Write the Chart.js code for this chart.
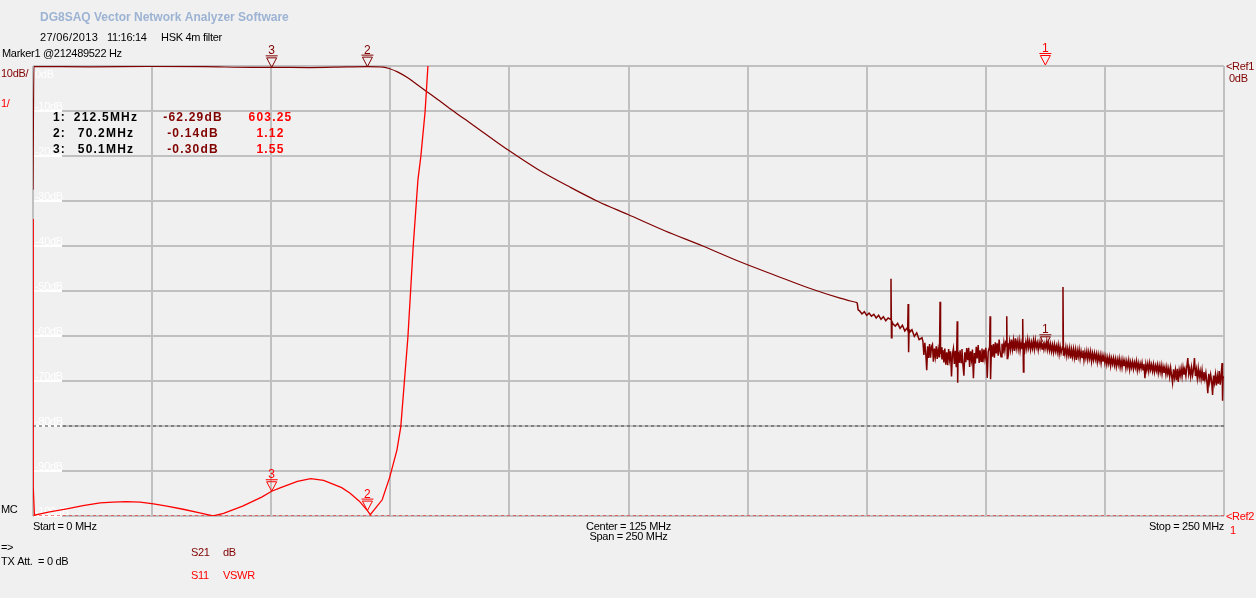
<!DOCTYPE html>
<html>
<head>
<meta charset="utf-8">
<title>DG8SAQ VNWA - HSK 4m filter</title>
<script src="https://cdn.jsdelivr.net/npm/chart.js@4.4.1/dist/chart.umd.min.js"></script>
<style>
  html, body { margin: 0; padding: 0; background: #f0f0f0; }
  #wrap { position: relative; width: 1256px; height: 598px; }
</style>
</head>
<body>
<div id="wrap"><canvas id="vnwa" width="1256" height="598"></canvas></div>
<script>
// S21 (transmission) pass band and skirt, [MHz, dB]
const s21Passband = [
  [0, -27.5], [0.2, -0.1], [12, -0.2], [24, -0.1], [36, -0.15], [46, -0.3], [50.1, -0.3],
  [58, -0.35], [66, -0.2], [70.2, -0.14], [73.5, -0.25], [74.9, -0.6], [76.5, -1.3],
  [78.5, -2.5], [80.2, -3.8], [81.9, -5.1], [83.6, -6.4], [85.4, -7.8], [87.2, -9.2],
  [89.0, -10.6], [91.4, -12.4], [93.8, -14.2], [96.8, -16.5], [99.9, -18.8], [106.0, -23.0],
  [112.7, -26.9], [118.6, -30.1], [124.9, -33.0], [132.6, -36.6], [140.6, -40.0],
  [148.4, -43.5], [156.0, -46.6], [163.0, -49.4], [169.4, -51.6], [173.0, -52.6]
];

// S21 noisy stop band, [MHz, dB]
const s21Stopband = [
  [173.0, -52.6], [173.2, -54.2], [173.5, -54.4], [174.0, -55.1], [174.5, -54.6], [175.0, -55.4],
  [175.5, -54.9], [176.0, -55.6], [176.5, -55.2], [177.0, -56.0], [177.5, -55.4], [178.0, -56.3],
  [178.5, -55.7], [179.0, -56.6], [179.5, -56.0], [180.0, -56.3], [180.1, -47.3], [180.2, -60.4],
  [180.3, -56.8], [180.5, -57.3], [181.0, -57.8], [181.5, -57.2], [182.0, -58.3], [182.5, -57.6],
  [183.0, -58.9], [183.5, -58.2], [183.6, -58.6], [183.7, -52.9], [183.8, -63.6], [183.9, -58.5],
  [184.0, -59.2], [184.5, -58.6], [185.0, -60.1], [185.5, -59.3], [186.0, -60.8],
  [186.6, -60.4], [186.8, -61.2], [187.0, -64.2], [187.2, -61.5], [187.4, -63.9], [187.6, -67.6],
  [187.8, -62.3], [188.0, -64.9], [188.2, -61.8], [188.4, -64.8], [188.6, -62.4], [188.8, -61.9],
  [189.0, -65.7], [189.2, -62.8], [189.4, -64.6], [189.6, -62.3], [189.8, -65.1], [190.0, -63.0],
  [190.2, -64.6], [190.3, -62.0], [190.4, -52.4], [190.5, -64.0], [190.6, -62.5], [190.8, -65.2],
  [191.0, -63.1], [191.2, -65.9], [191.4, -62.8], [191.6, -66.4], [191.8, -63.6], [192.0, -66.5],
  [192.2, -62.9], [192.4, -65.2], [192.6, -63.4], [192.8, -69.0], [193.0, -64.0], [193.2, -62.8],
  [193.4, -66.2], [193.6, -63.3], [193.8, -66.8], [193.9, -63.0], [194.0, -56.7], [194.1, -70.4],
  [194.2, -63.5], [194.4, -66.0], [194.6, -63.2], [194.8, -65.9], [195.0, -62.9], [195.2, -66.4],
  [195.4, -68.8], [195.6, -63.6], [195.8, -65.8], [196.0, -62.7], [196.2, -65.4], [196.4, -62.6],
  [196.6, -66.9], [196.8, -63.4], [197.0, -65.3], [197.2, -63.0], [197.4, -69.4], [197.6, -63.8],
  [197.8, -66.1], [198.0, -62.4], [198.2, -65.0], [198.4, -62.0], [198.6, -66.0], [198.8, -63.2],
  [199.0, -65.6], [199.2, -62.8], [199.4, -65.8], [199.6, -63.0], [199.8, -64.9], [200.0, -62.6],
  [200.2, -66.0], [200.3, -69.3], [200.5, -63.5], [200.8, -62.4], [200.9, -55.6], [201.0, -69.6],
  [201.2, -62.0], [201.4, -64.6], [201.6, -61.8], [201.8, -64.8], [202.0, -61.4], [202.2, -63.9],
  [202.4, -61.6], [202.6, -64.4], [202.8, -60.8], [203.0, -63.5], [203.2, -64.6], [203.4, -61.7],
  [203.6, -63.9], [203.8, -61.5], [204.0, -63.2], [204.2, -61.0], [204.3, -62.2], [204.4, -55.6],
  [204.5, -65.0], [204.6, -61.6], [204.8, -63.4], [205.0, -61.2], [205.2, -63.0], [205.4, -60.8],
  [205.6, -62.9], [205.8, -61.0], [206.0, -63.3], [206.2, -60.5], [206.4, -62.7], [206.6, -61.2],
  [206.8, -62.9], [207.0, -61.0], [207.2, -63.2], [207.4, -61.4], [207.6, -62.8], [207.7, -61.0],
  [207.8, -56.2], [207.9, -68.0], [208.0, -61.5], [208.2, -63.0], [208.4, -61.3], [208.6, -62.8],
  [208.8, -60.8], [209.0, -62.6], [209.2, -61.2], [209.4, -63.0], [209.6, -61.4], [209.8, -62.7],
  [210.0, -61.0], [210.2, -62.9], [210.4, -60.9], [210.6, -62.5], [210.8, -61.5], [211.0, -63.1],
  [211.2, -61.4], [211.4, -62.6], [211.6, -61.2], [211.8, -62.9], [212.0, -61.6], [212.2, -63.0],
  [212.4, -61.7], [212.6, -62.8], [212.8, -61.2], [213.0, -63.0], [213.2, -61.6], [213.4, -63.2],
  [213.6, -61.8], [213.8, -63.4], [214.0, -62.0], [214.2, -63.6], [214.4, -61.9], [214.6, -63.4],
  [214.8, -62.2], [215.0, -63.6], [215.2, -62.0], [215.4, -64.0], [215.6, -62.3], [215.8, -63.8],
  [216.1, -62.4], [216.2, -49.1], [216.3, -64.2], [216.4, -62.6], [216.6, -64.0], [216.8, -62.5],
  [217.0, -64.4], [217.2, -62.8], [217.4, -64.2], [217.6, -62.7], [217.8, -65.0], [218.0, -63.0],
  [218.2, -64.6], [218.4, -62.9], [218.6, -64.8], [218.8, -63.1], [219.0, -65.3], [219.2, -63.2],
  [219.4, -64.6], [219.6, -63.0], [219.8, -65.0], [220.0, -63.4], [220.2, -64.8], [220.4, -63.2],
  [220.6, -65.4], [220.8, -63.6], [221.0, -64.9], [221.2, -63.4], [221.4, -65.2], [221.6, -63.6],
  [221.8, -65.0], [222.0, -63.5], [222.2, -65.6], [222.4, -63.9], [222.6, -65.3], [222.8, -63.8],
  [223.0, -65.2], [223.2, -64.0], [223.4, -65.8], [223.6, -64.1], [223.8, -65.5], [224.0, -64.2],
  [224.2, -66.0], [224.4, -64.3], [224.6, -65.7], [224.8, -64.4], [225.0, -66.0], [225.2, -64.6],
  [225.4, -66.3], [225.6, -64.8], [225.8, -66.1], [226.0, -64.7], [226.2, -66.6], [226.4, -65.0],
  [226.6, -66.2], [226.8, -64.9], [227.0, -66.5], [227.2, -65.1], [227.4, -66.8], [227.6, -65.2],
  [227.8, -66.4], [228.0, -65.0], [228.2, -66.9], [228.4, -65.4], [228.6, -67.0], [228.8, -65.3],
  [229.0, -66.7], [229.2, -65.5], [229.4, -67.2], [229.6, -65.6], [229.8, -66.9], [230.0, -65.4],
  [230.2, -67.4], [230.4, -65.8], [230.6, -67.0], [230.8, -65.7], [231.0, -67.3], [231.2, -65.9],
  [231.4, -67.0], [231.6, -65.6], [231.8, -67.6], [232.0, -66.0], [232.2, -67.4], [232.4, -66.1],
  [232.6, -67.2], [232.8, -65.9], [233.0, -67.5], [233.2, -66.2], [233.4, -69.4], [233.6, -66.3],
  [233.8, -67.6], [234.0, -66.2], [234.2, -67.8], [234.4, -66.0], [234.6, -67.5], [234.8, -66.4],
  [235.0, -67.8], [235.2, -66.3], [235.4, -68.0], [235.6, -66.6], [235.8, -67.7], [236.0, -66.4],
  [236.2, -68.2], [236.4, -66.6], [236.6, -68.0], [236.8, -66.5], [237.0, -68.4], [237.2, -66.8],
  [237.4, -68.2], [237.6, -67.0], [237.8, -68.6], [238.0, -66.9], [238.2, -68.4], [238.4, -67.2],
  [238.6, -69.0], [238.8, -67.1], [239.0, -68.8], [239.2, -70.4], [239.4, -67.4], [239.6, -69.2],
  [239.8, -67.6], [240.0, -69.8], [240.2, -67.3], [240.4, -70.2], [240.6, -67.6], [240.8, -68.8],
  [241.0, -67.2], [241.2, -69.0], [241.4, -67.0], [241.6, -68.6], [241.8, -67.4], [242.0, -68.9],
  [242.2, -66.8], [242.4, -64.9], [242.6, -68.4], [242.8, -67.2], [243.0, -69.0], [243.2, -67.0],
  [243.4, -68.7], [243.6, -67.4], [243.8, -64.9], [244.0, -68.9], [244.2, -67.4], [244.4, -69.4],
  [244.6, -67.2], [244.8, -69.2], [245.0, -67.8], [245.2, -69.5], [245.4, -67.6], [245.6, -69.8],
  [245.8, -68.0], [246.0, -69.6], [246.2, -68.2], [246.4, -70.0], [246.6, -72.7], [246.8, -68.4],
  [247.0, -70.2], [247.2, -68.6], [247.4, -70.0], [247.6, -73.1], [247.8, -68.8], [248.0, -70.4],
  [248.2, -68.6], [248.4, -71.0], [248.6, -68.9], [248.8, -70.6], [249.0, -67.8], [249.2, -70.8],
  [249.4, -68.6], [249.6, -66.0], [249.7, -74.4], [249.8, -69.0], [250.0, -69.4]
];

// S11 trace shown as VSWR, [MHz, ratio]
const s11Trace = [
  [0, 7.6], [0.05, 1.65], [0.3, 1.02], [3.5, 1.09], [7.1, 1.16], [10.5, 1.23], [14.1, 1.29],
  [16.8, 1.31], [19.6, 1.32], [22.5, 1.31], [25.3, 1.27], [28.1, 1.22], [31.5, 1.15],
  [35.0, 1.07], [37.8, 1.0], [40.0, 1.06], [44.0, 1.22], [48.0, 1.42], [50.1, 1.55], [52.0, 1.63],
  [55.5, 1.77], [58.3, 1.83], [61.0, 1.79], [64.8, 1.63], [66.5, 1.51], [68.5, 1.33], [70.2, 1.12],
  [70.8, 1.03], [73.3, 1.36], [74.9, 1.87], [76.4, 2.47], [77.2, 2.98], [78.7, 4.98], [79.8, 6.98],
  [80.8, 8.47], [81.4, 8.98], [82.3, 9.98], [82.9, 11.0], [84.0, 13.5]
];

const markerIds = ['1', '2', '3'];
const markerFreqs = [212.5, 70.2, 50.1];
const markerS21 = [-62.29, -0.14, -0.30];
const markerVswr = [603.25, 1.12, 1.55];

const dbTickValues = [0, -10, -20, -30, -40, -50, -60, -70, -80, -90, -100];
const vswrRef = 1;
const vswrLimit = 3;

const DARK = '#800000';
const RED = '#ff0000';
const FONT = '11px "Liberation Sans", Arial, sans-serif';
const BOLD = 'bold 12px "Liberation Sans", Arial, sans-serif';

function txt(ctx, s, x, y, color, opts = {}) {
  ctx.font = opts.font || FONT;
  ctx.fillStyle = color;
  ctx.textAlign = opts.align || 'left';
  ctx.textBaseline = 'alphabetic';
  ctx.letterSpacing = opts.spacing || '-0.3px';
  ctx.fillText(s, x, y);
}

function drawMarker(ctx, x, y, id, color) {
  ctx.save();
  ctx.strokeStyle = color;
  ctx.lineWidth = 1;
  ctx.beginPath();
  ctx.moveTo(x - 6, y - 11.5);
  ctx.lineTo(x + 6, y - 11.5);
  ctx.moveTo(x - 5, y - 9.5);
  ctx.lineTo(x + 5, y - 9.5);
  ctx.lineTo(x, y);
  ctx.closePath();
  ctx.stroke();
  txt(ctx, id, x, y - 13, color, { font: '12px "Liberation Sans", Arial, sans-serif', align: 'center', spacing: '0px' });
  ctx.restore();
}

const vnwaText = {
  id: 'vnwaText',
  beforeDatasetsDraw(chart) {
    const { ctx, chartArea: a, scales: { db } } = chart;
    ctx.save();
    dbTickValues.forEach((v, i) => {
      const y = db.getPixelForValue(v);
      if (i === 0) {
        txt(ctx, v + 'dB', a.left + 2, y + 12, '#ffffff');
        return;
      }
      ctx.strokeStyle = '#ffffff';
      ctx.lineWidth = 2;
      ctx.beginPath();
      ctx.moveTo(a.left + 1, y);
      ctx.lineTo(a.left + 29, y);
      ctx.stroke();
      txt(ctx, v + 'dB', a.left + 2, y - 1.5, '#ffffff');
    });
    ctx.restore();
  },
  afterDraw(chart) {
    const { ctx, chartArea: a, scales: { x, db, vswr } } = chart;
    ctx.save();

    // markers on both traces
    markerIds.forEach((id, i) => {
      const px = x.getPixelForValue(markerFreqs[i]);
      const clampY = y => Math.max(a.top - 1, Math.min(a.bottom, y));
      drawMarker(ctx, px, clampY(db.getPixelForValue(markerS21[i])), id, DARK);
      drawMarker(ctx, px, clampY(vswr.getPixelForValue(markerVswr[i])), id, RED);
    });

    // header
    txt(ctx, 'DG8SAQ Vector Network Analyzer Software', 40, 21, '#9cb3d3',
        { font: 'bold 12px "Liberation Sans", Arial, sans-serif', spacing: '0px' });
    txt(ctx, '27/06/2013', 40, 41, '#000', { spacing: '0.3px' });
    txt(ctx, '11:16:14', 107, 41, '#000');
    txt(ctx, 'HSK 4m filter', 161, 41, '#000');
    txt(ctx, 'Marker1 @212489522 Hz', 2, 57, '#000');

    // scale captions
    txt(ctx, '10dB/', 1, 77, DARK);
    txt(ctx, '1/', 1, 107, RED);
    txt(ctx, 'MC', 1, 513, '#000');
    txt(ctx, '<Ref1', 1226, 69.5, DARK);
    txt(ctx, '0dB', 1229, 82, DARK);
    txt(ctx, '<Ref2', 1226, 519.5, RED);
    txt(ctx, String(vswrRef), 1230, 533.5, RED);

    // marker table
    markerIds.forEach((id, i) => {
      const y = 121 + i * 16;
      const sp = { font: BOLD, spacing: '1.2px', align: 'center' };
      txt(ctx, id + ':', 53, y, '#000', { font: BOLD, spacing: '1.2px' });
      txt(ctx, markerFreqs[i].toFixed(1) + 'MHz', 106, y, '#000', sp);
      txt(ctx, markerS21[i].toFixed(2) + 'dB', 193, y, DARK, sp);
      txt(ctx, markerVswr[i].toFixed(2), 270.5, y, RED, sp);
    });

    // frequency axis
    txt(ctx, 'Start = ' + x.min + ' MHz', 33, 530, '#000');
    txt(ctx, 'Center = ' + (x.min + x.max) / 2 + ' MHz', (a.left + a.right) / 2, 529.5, '#000', { align: 'center' });
    txt(ctx, 'Span = ' + (x.max - x.min) + ' MHz', (a.left + a.right) / 2, 540, '#000', { align: 'center' });
    txt(ctx, 'Stop = ' + x.max + ' MHz', a.right, 530, '#000', { align: 'right' });

    // footer
    txt(ctx, '=>', 1, 551, '#000');
    txt(ctx, 'TX Att.  = 0 dB', 1, 565, '#000');
    txt(ctx, 'S21', 191, 556, DARK);
    txt(ctx, 'dB', 223, 556, DARK);
    txt(ctx, 'S11', 191, 578.5, RED);
    txt(ctx, 'VSWR', 223, 578.5, RED);
    ctx.restore();
  }
};

const gridStyle = { color: '#c0c0c0', lineWidth: 2, drawTicks: false };
const toXY = arr => arr.map(p => ({ x: p[0], y: p[1] }));

new Chart(document.getElementById('vnwa'), {
  type: 'line',
  data: {
    datasets: [
      {
        label: 'S11 VSWR',
        data: toXY(s11Trace),
        yAxisID: 'vswr',
        borderColor: RED,
        borderWidth: 1.3,
        order: 0
      },
      {
        label: 'S21 dB',
        data: toXY(s21Passband),
        yAxisID: 'db',
        borderColor: DARK,
        borderWidth: 1.2,
        cubicInterpolationMode: 'monotone',
        order: 1
      },
      {
        label: 'S21 dB stop band',
        data: toXY(s21Stopband),
        yAxisID: 'db',
        borderColor: DARK,
        borderWidth: 1.5,
        order: 1
      },
      {
        label: 'Ref2',
        data: [{ x: 0, y: vswrRef }, { x: 250, y: vswrRef }],
        yAxisID: 'vswr',
        borderColor: RED,
        borderWidth: 1,
        borderDash: [3, 3],
        order: 2
      },
      {
        label: 'limit',
        data: [{ x: 0, y: vswrLimit }, { x: 250, y: vswrLimit }],
        yAxisID: 'vswr',
        borderColor: '#404040',
        borderWidth: 1,
        borderDash: [3, 3],
        order: 3
      }
    ]
  },
  options: {
    responsive: false,
    animation: false,
    events: [],
    layout: { padding: { left: 33, right: 32, top: 66, bottom: 82 } },
    plugins: { legend: { display: false }, tooltip: { enabled: false } },
    elements: { point: { radius: 0 }, line: { tension: 0 } },
    scales: {
      x: {
        type: 'linear', min: 0, max: 250,
        ticks: { display: false, stepSize: 25 },
        grid: gridStyle,
        border: { display: false }
      },
      db: {
        type: 'linear', position: 'left', min: -100, max: 0,
        ticks: { display: false, stepSize: 10 },
        grid: gridStyle,
        border: { display: false }
      },
      vswr: { type: 'linear', position: 'right', min: 1, max: 11, display: false }
    }
  },
  plugins: [vnwaText]
});
</script>
</body>
</html>
